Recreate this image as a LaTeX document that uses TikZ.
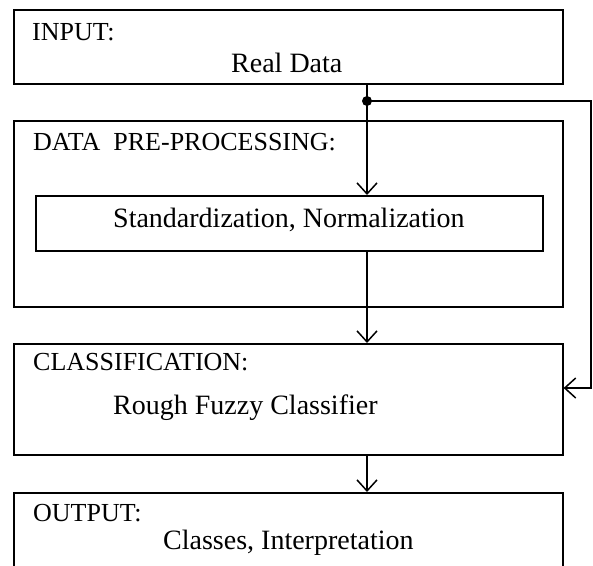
\documentclass[tikz,border=0pt]{standalone}
\usepackage{fontspec}
\setmainfont{Liberation Serif}
\usetikzlibrary{arrows.meta}
\begin{document}
\begin{tikzpicture}[x=1pt,y=-1pt,
  box/.style={draw, line width=1.6pt, rectangle, inner sep=0pt, anchor=north west},
  lbl/.style={anchor=base west, inner sep=0pt, font=\fontsize{26}{30}\selectfont},
  txt/.style={anchor=base west, inner sep=0pt, font=\fontsize{28}{33}\selectfont},
  conn/.style={line width=1.5pt, line join=miter, -{Straight Barb[length=11pt,width=20pt,line width=1.5pt]}},
  wire/.style={line width=1.5pt}]
\useasboundingbox (0,0) rectangle (593,565);
\clip (0,0) rectangle (593,565);
% boxes
\node[box, minimum width=549pt, minimum height=74pt] (input) at (13,9) {};
\node[box, minimum width=549pt, minimum height=186pt] (data) at (13,120) {};
\node[box, minimum width=507pt, minimum height=55pt] (inner) at (35,195) {};
\node[box, minimum width=549pt, minimum height=111pt] (class) at (13,343) {};
\node[box, minimum width=549pt, minimum height=110pt] (output) at (13,492) {};
% texts
\node[lbl] (tin) at (32,40.5) {INPUT:};
\node[txt] (treal) at (231,72) {Real Data};
\node[lbl] (tdata) at (33,150.5) {DATA\ \ PRE-PROCESSING:};
\node[txt] (tstd) at (113,227) {Standardization, Normalization};
\node[lbl] (tclass) at (33,370.5) {CLASSIFICATION:};
\node[txt] (trough) at (113,414) {Rough Fuzzy Classifier};
\node[lbl] (tout) at (33,521.5) {OUTPUT:};
\node[txt] (tcls) at (163,549) {Classes, Interpretation};
% connectors
\coordinate (split) at (367,101);
\coordinate (fbtop) at (591,101);
\coordinate (fbbot) at (591,388);
\draw[wire] (split |- input.south) -- (split);
\fill (split) circle[radius=5];
\draw[conn] (split) -- (split |- inner.north);
\draw[conn] (split |- inner.south) -- (split |- class.north);
\draw[conn] (split |- class.south) -- (split |- output.north);
\draw[conn] (split) -- (fbtop) -- (fbbot) -- (fbbot -| class.east);
\end{tikzpicture}
\end{document}
